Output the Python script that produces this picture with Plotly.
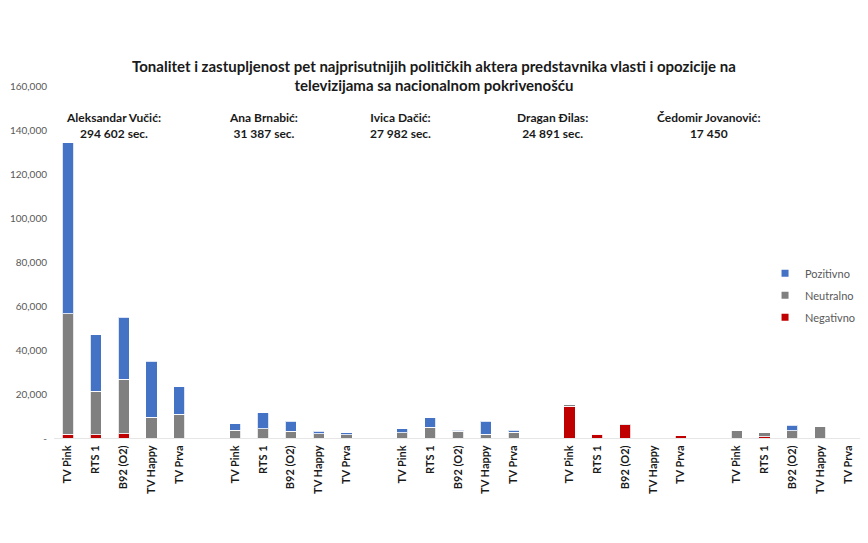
import plotly.graph_objects as go

actors = ["Aleksandar Vučić", "Ana Brnabić", "Ivica Dačić", "Dragan Đilas", "Čedomir Jovanović"]
actor_totals = ["294 602 sec.", "31 387 sec.", "27 982 sec.", "24 891 sec.", "17 450"]
channels = ["TV Pink", "RTS 1", "B92 (O2)", "TV Happy", "TV Prva"]

# values per actor, per channel (seconds)
negativno = [
    [1800, 1500, 2000, 0, 0],
    [0, 0, 0, 0, 0],
    [0, 0, 0, 0, 0],
    [14500, 1700, 6000, 0, 1000],
    [0, 600, 0, 0, 0],
]
neutralno = [
    [54600, 19700, 24800, 9400, 10800],
    [3500, 4200, 3000, 2000, 1500],
    [2400, 4900, 3000, 1800, 2600],
    [600, 300, 500, 0, 0],
    [3300, 1800, 3200, 5200, 0],
]
pozitivno = [
    [77800, 25800, 28200, 25600, 12500],
    [3000, 7300, 4700, 1000, 900],
    [1700, 4200, 600, 5900, 900],
    [0, 0, 0, 0, 0],
    [0, 0, 2700, 0, 0],
]

y_ticks = [0, 20000, 40000, 60000, 80000, 100000, 120000, 140000, 160000]

# build positions: one empty slot between actor groups
xs, tick_text = [], []
neg, neu, poz = [], [], []
for g in range(len(actors)):
    for c, ch in enumerate(channels):
        xs.append(g * (len(channels) + 1) + c)
        tick_text.append(ch)
        neg.append(negativno[g][c])
        neu.append(neutralno[g][c])
        poz.append(pozitivno[g][c])

series = [("Negativno", neg, "#C00000"), ("Neutralno", neu, "#808080"), ("Pozitivno", poz, "#4472C4")]

fig = go.Figure()
line = dict(color="rgba(255,255,255,0.8)", width=1)
for name, vals, col in series:
    fig.add_trace(go.Bar(x=xs, y=vals, name=name, marker=dict(color=col, line=line),
                         showlegend=False))
# legend entries with small square swatches (top to bottom: Pozitivno, Neutralno, Negativno)
for i, (name, vals, col) in enumerate(reversed(series)):
    fig.add_trace(go.Scatter(x=[None], y=[None], mode="markers", name=name,
                             marker=dict(symbol="square", size=7, color=col),
                             legendgroup=f"g{i}"))

# the page body has an 8px margin, so the figure is sized 860x535
W, H = 860, 535
ML, MR, MT, MB = 46, 6, 78, 105
plot_w = W - ML - MR
plot_h = H - MT - MB

fig.update_layout(
    template="none",
    barmode="stack",
    bargap=0.6,
    width=W, height=H,
    margin=dict(l=ML, r=MR, t=MT, b=MB, autoexpand=False),
    paper_bgcolor="white", plot_bgcolor="white",
    font=dict(family="Lato, Liberation Sans, sans-serif", color="#595959"),
    title=dict(
        text="Tonalitet i zastupljenost pet najprisutnijih političkih aktera predstavnika vlasti i opozicije na<br>televizijama sa nacionalnom pokrivenošću",
        x=0.4953, xref="container", xanchor="center",
        y=0.8804, yref="container", yanchor="middle",
        font=dict(size=15, color="#1a1a1a", family="Lato, Liberation Sans, sans-serif", weight="bold"),
    ),
    legend=dict(
        x=0.88, y=0.509, xanchor="left", yanchor="top",
        traceorder="grouped", tracegroupgap=3,
        font=dict(size=11, color="#595959"),
        bgcolor="rgba(0,0,0,0)",
        itemwidth=30,
    ),
    showlegend=True,
    hovermode=False,
)

fig.update_xaxes(
    tickmode="array", tickvals=xs, ticktext=tick_text,
    tickangle=-90, tickfont=dict(size=11, color="#1a1a1a", weight="bold"),
    range=[min(xs) - 0.5, max(xs) + 0.5],
    showline=True, linecolor="#e6e6e6", linewidth=1,
    showgrid=False, zeroline=False, ticks="", automargin=False,
    ticklabelstandoff=2,
)
fig.update_yaxes(
    range=[0, 160000],
    tickmode="array", tickvals=y_ticks,
    ticktext=["-"] + [f"{v:,}" for v in y_ticks[1:]],
    tickfont=dict(size=10, color="#595959"),
    showgrid=False, zeroline=False, showline=False, ticks="", automargin=False,
    ticklabelstandoff=6,
)

# annotation centres given in page pixels, converted to paper fractions
ann_px = [113, 263, 400, 552, 708]
for px, name, tot in zip(ann_px, actors, actor_totals):
    fig.add_annotation(
        x=(px - 8 - ML) / plot_w, y=(438 - 125) / plot_h,
        xref="paper", yref="paper", xanchor="center", yanchor="middle",
        showarrow=False,
        text=f"<b>{name}:<br>{tot}</b>", align="center",
        font=dict(size=12, color="#1a1a1a"),
    )

fig.write_html("out.html")
